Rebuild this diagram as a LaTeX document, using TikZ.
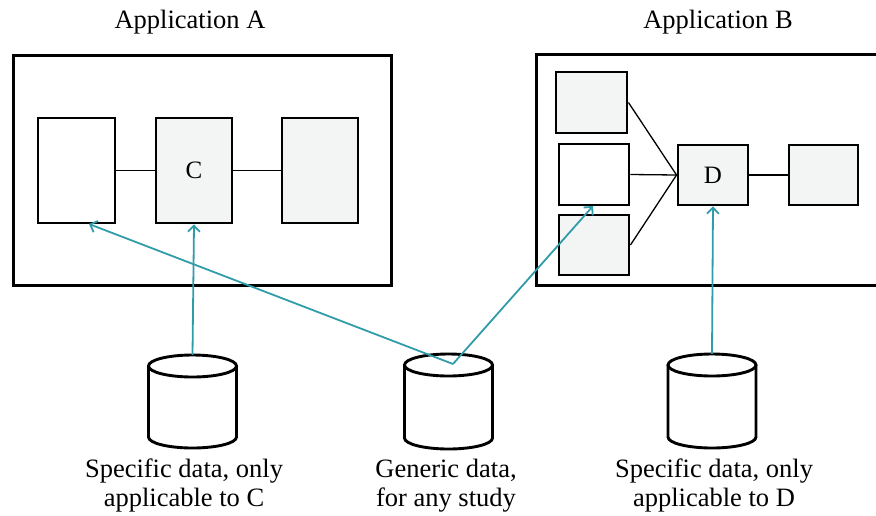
\documentclass[tikz,border=0pt]{standalone}
\usepackage{fontspec}
\setmainfont{Liberation Serif}
\usetikzlibrary{arrows.meta,calc}
\definecolor{boxgray}{RGB}{243,244,244}
\definecolor{teal2}{RGB}{48,156,170}
\tikzset{
  frame/.style={draw, line width=3pt, inner sep=0pt},
  blk/.style={draw, line width=2.9pt, inner sep=0pt, font=\fontsize{25}{27}\selectfont},
  gblk/.style={blk, fill=boxgray},
  wblk/.style={blk, fill=white},
  link/.style={line width=1.3pt},
  feed/.style={draw=teal2, line width=1.8pt, -{Straight Barb[length=6pt,width=12pt,line width=1.8pt]}},
  cyl/.style={line width=2.9pt},
  lbl/.style={font=\fontsize{26.5}{28.5}\selectfont, align=center, inner sep=0pt},
  title/.style={font=\fontsize{26.5}{28}\selectfont, inner sep=0pt}
}
\newcommand{\drawcyl}[4]{% name, cx, top, bottom
  \node[minimum width=88pt, minimum height=#4pt-#3pt, inner sep=0pt] (#1) at (#2,{-(#3+#4)/2}) {};
  \draw[cyl] (#2,{-(#3+11)}) ellipse [x radius=44, y radius=11];
  \draw[cyl] ({#2-44},{-(#3+11)}) -- ({#2-44},{-(#4-11)})
     arc[start angle=180, end angle=360, x radius=44, y radius=11]
     -- ({#2+44},{-(#3+11)});
}
\begin{document}
\begin{tikzpicture}[x=1pt,y=1pt]
\useasboundingbox (0,0) rectangle (876,-515);
% titles
\node[title] (tA) at (190,-22) {Application A};
\node[title] (tB) at (718,-22) {Application B};
% frames
\draw[frame] (13,-55) rectangle (391,-285);
\draw[frame] (536,-54) rectangle (885,-285);
% app A boxes
\node[wblk, minimum width=77pt, minimum height=105pt] (A1) at (76.5,-170.5) {};
\node[gblk, minimum width=76pt, minimum height=105pt] (C) at (194,-170.5) {C};
\node[gblk, minimum width=76pt, minimum height=105pt] (A3) at (320,-170.5) {};
\draw[link] (A1) -- (C);
\draw[link] (C) -- (A3);
% app B boxes
\node[gblk, minimum width=71pt, minimum height=61pt] (B1) at (591.5,-102.5) {};
\node[wblk, minimum width=70pt, minimum height=61pt] (B2) at (594,-174.5) {};
\node[gblk, minimum width=70pt, minimum height=60pt] (B3) at (594,-245) {};
\node[gblk, minimum width=70pt, minimum height=60pt] (D) at (713,-175) {D};
\node[gblk, minimum width=69pt, minimum height=60pt] (B5) at (823.5,-175) {};
\coordinate (Din) at (D.west);
\draw[link] (B1.east) -- (Din);
\draw[link] (B2.east) -- (Din);
\draw[link] (B3.east) -- (Din);
\draw[link] (D) -- (B5);
% cylinders
\drawcyl{cylC}{192.5}{355}{448}
\drawcyl{cylG}{448.5}{354}{449}
\drawcyl{cylD}{712}{354}{448}
% labels
\node[lbl, anchor=north] (lC) at (184,-459) {Specific data, only\\applicable to C};
\node[lbl, anchor=north] (lG) at (446,-459) {Generic data,\\for any study};
\node[lbl, anchor=north] (lD) at (714,-459) {Specific data, only\\applicable to D};
% arrows
\coordinate (g) at (453,-364);
\coordinate (tipA) at (89,-224);
\coordinate (tipB) at (593,-206);
\draw[feed] (cylC.north) -- (C.south);
\draw[feed] (cylD.north) -- (D.south);
\draw[feed] (g) -- (tipA);
\draw[feed] (g) -- (tipB);
\end{tikzpicture}
\end{document}
